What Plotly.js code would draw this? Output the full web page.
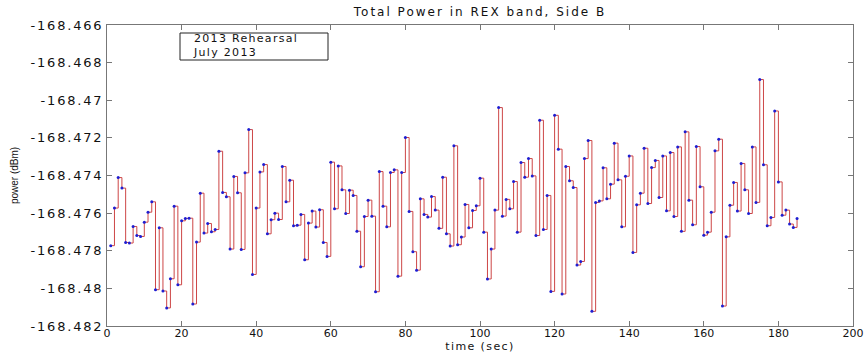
<!DOCTYPE html>
<html>
<head>
<meta charset="utf-8">
<script src="https://cdn.plot.ly/plotly-3.0.1.min.js"></script>
<style>
html,body{margin:0;padding:0;background:#fff;}
#chart{width:864px;height:356px;}
#chart .ytick text{letter-spacing:1.8px;}
#chart .gtitle{letter-spacing:2px;}
#chart .xtitle{letter-spacing:1.4px;}
#chart .annotation-text{letter-spacing:1.3px;}
</style>
</head>
<body>
<div id="chart"></div>
<script>
// time (sec)
const timeSec = [];
for (let i = 1; i <= 185; i++) timeSec.push(i);

// total power (dBm)
const powerDbm = [
-168.47773,-168.47573,-168.47411,-168.47467,-168.47756,-168.47759,-168.47671,-168.47719,-168.47724,-168.47648,
-168.47595,-168.47540,-168.48007,-168.47678,-168.48014,-168.48104,-168.47949,-168.47563,-168.47981,-168.47641,
-168.47628,-168.47627,-168.48083,-168.47754,-168.47494,-168.47706,-168.47655,-168.47699,-168.47687,-168.47271,
-168.47490,-168.47513,-168.47791,-168.47405,-168.47492,-168.47793,-168.47386,-168.47156,-168.47926,-168.47573,
-168.47381,-168.47342,-168.47710,-168.47635,-168.47600,-168.47634,-168.47352,-168.47540,-168.47425,-168.47667,
-168.47664,-168.47607,-168.47848,-168.47653,-168.47589,-168.47674,-168.47582,-168.47756,-168.47830,-168.47329,
-168.47577,-168.47349,-168.47476,-168.47602,-168.47478,-168.47506,-168.47696,-168.47885,-168.47618,-168.47531,
-168.47616,-168.48018,-168.47379,-168.47563,-168.47673,-168.47384,-168.47370,-168.47935,-168.47384,-168.47198,
-168.47591,-168.47805,-168.47903,-168.47524,-168.47607,-168.47621,-168.47512,-168.47584,-168.47681,-168.47409,
-168.47710,-168.47775,-168.47242,-168.47768,-168.47727,-168.47554,-168.47678,-168.47586,-168.47561,-168.47414,
-168.47701,-168.47950,-168.47791,-168.47584,-168.47039,-168.47616,-168.47527,-168.47577,-168.47432,-168.47701,
-168.47331,-168.47409,-168.47310,-168.47402,-168.47719,-168.47106,-168.47687,-168.47506,-168.48016,-168.47080,
-168.47260,-168.48030,-168.47352,-168.47428,-168.47464,-168.47876,-168.47857,-168.47310,-168.47214,-168.48122,
-168.47543,-168.47535,-168.47359,-168.47524,-168.47446,-168.47228,-168.47423,-168.47673,-168.47404,-168.47296,
-168.47809,-168.47556,-168.47494,-168.47255,-168.47549,-168.47358,-168.47320,-168.47517,-168.47296,-168.47588,
-168.47278,-168.47618,-168.47248,-168.47697,-168.47168,-168.47531,-168.47662,-168.47246,-168.47460,-168.47717,
-168.47701,-168.47595,-168.47269,-168.47207,-168.48094,-168.47726,-168.47558,-168.47437,-168.47589,-168.47336,
-168.47476,-168.47602,-168.47248,-168.47543,-168.46890,-168.47343,-168.47667,-168.47623,-168.47057,-168.47434,
-168.47611,-168.47584,-168.47658,-168.47676,-168.47628
];

const yTickVals = [-168.482,-168.48,-168.478,-168.476,-168.474,-168.472,-168.47,-168.468,-168.466];
const yTickText = ["-168.482","-168.48","-168.478","-168.476","-168.474","-168.472","-168.47","-168.468","-168.466"];
const xTickVals = [0,20,40,60,80,100,120,140,160,180,200];
const xTickText = ["0","20","40","60","80","100","120","140","160","180","200"];
const noteLines = ["2013 Rehearsal", "July 2013"];

const FONT = 'DejaVu Sans, Liberation Sans, Arial, sans-serif';

const trace = {
  x: timeSec,
  y: powerDbm,
  type: 'scatter',
  mode: 'lines+markers',
  line: {shape: 'hv', color: 'rgb(205,70,70)', width: 1},
  marker: {color: 'rgb(30,30,210)', size: 3},
  hoverinfo: 'x+y',
  showlegend: false
};

const axisCommon = {
  showgrid: false,
  zeroline: false,
  showline: true,
  linecolor: '#777',
  linewidth: 1,
  mirror: 'ticks',
  ticks: 'inside',
  ticklen: 5,
  tickcolor: '#777',
  ticklabeloverflow: 'allow',
  tickfont: {family: FONT, size: 12, color: '#111'}
};

const layout = {
  width: 864,
  height: 356,
  margin: {l: 107, r: 11, t: 25, b: 30},
  paper_bgcolor: '#fff',
  plot_bgcolor: '#fff',
  title: {
    text: 'Total Power in REX band, Side B',
    font: {family: FONT, size: 12, color: '#111'},
    x: 0.5, xref: 'paper', xanchor: 'center', y: 1 - 12/356, yanchor: 'middle'
  },
  xaxis: Object.assign({}, axisCommon, {
    range: [0, 200],
    tickvals: xTickVals,
    ticktext: xTickText,
    ticklabelstandoff: -3,
    tickfont: {family: FONT, size: 11, color: '#111'},
    title: {text: 'time (sec)', font: {family: FONT, size: 11, color: '#111'}, standoff: 0}
  }),
  yaxis: Object.assign({}, axisCommon, {
    range: [-168.482, -168.466],
    tickvals: yTickVals,
    ticktext: yTickText,
    tickfont: {family: FONT, size: 13, color: '#111'},
    title: {text: 'power (dBm)', font: {family: 'Liberation Sans, Arial, sans-serif', size: 10, color: '#111'}, standoff: 24}
  }),
  shapes: [{
    type: 'rect', xref: 'paper', yref: 'paper',
    x0: 73/746, x1: 221/746, y0: 1 - 35/301, y1: 1 - 8/301,
    line: {color: '#222', width: 1}, fillcolor: '#fff', layer: 'above'
  }],
  annotations: [
    {xref: 'paper', yref: 'paper', x: 84/746, y: 1 - 20/301, xanchor: 'left', yanchor: 'middle',
     text: noteLines.join('<br>'), align: 'left', showarrow: false,
     font: {family: FONT, size: 11, color: '#111'}}
  ]
};

Plotly.newPlot('chart', [trace], layout, {staticPlot: true, displayModeBar: false});
</script>
</body>
</html>
